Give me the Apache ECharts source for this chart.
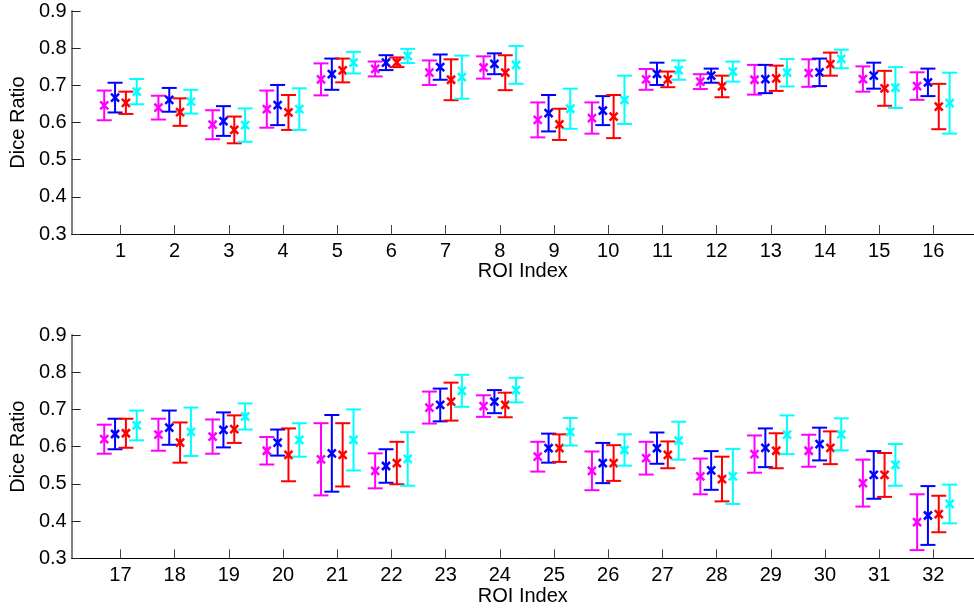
<!DOCTYPE html>
<html>
<head>
<meta charset="utf-8">
<script src="https://cdn.jsdelivr.net/npm/echarts@6/dist/echarts.min.js"></script>
<style>
  html, body { margin: 0; padding: 0; background: #fff; }
  #chart { width: 974px; height: 609px; }
</style>
</head>
<body>
<div id="chart"></div>
<script>
// ROI tick labels for the two panels
const roiTop = [1, 2, 3, 4, 5, 6, 7, 8, 9, 10, 11, 12, 13, 14, 15, 16];
const roiBottom = [17, 18, 19, 20, 21, 22, 23, 24, 25, 26, 27, 28, 29, 30, 31, 32];

// Mean Dice ratio and standard deviation per ROI (1..32) for each method
const meanMagenta = [0.646, 0.640, 0.594, 0.636, 0.716, 0.744, 0.734, 0.748, 0.607, 0.612, 0.716, 0.710, 0.715, 0.733, 0.717, 0.698,
                     0.620, 0.632, 0.627, 0.589, 0.566, 0.535, 0.705, 0.709, 0.573, 0.535, 0.569, 0.520, 0.580, 0.589, 0.502, 0.397];
const sdMagenta   = [0.040, 0.032, 0.039, 0.050, 0.043, 0.020, 0.033, 0.030, 0.047, 0.042, 0.028, 0.020, 0.040, 0.037, 0.034, 0.037,
                     0.039, 0.043, 0.046, 0.037, 0.097, 0.047, 0.043, 0.029, 0.040, 0.052, 0.044, 0.048, 0.050, 0.043, 0.063, 0.075];

const meanBlue = [0.667, 0.661, 0.604, 0.647, 0.730, 0.761, 0.749, 0.758, 0.625, 0.632, 0.731, 0.726, 0.717, 0.735, 0.726, 0.708,
                  0.634, 0.651, 0.645, 0.611, 0.582, 0.548, 0.712, 0.721, 0.596, 0.556, 0.596, 0.536, 0.597, 0.607, 0.524, 0.415];
const sdBlue   = [0.040, 0.032, 0.040, 0.054, 0.042, 0.020, 0.034, 0.028, 0.049, 0.039, 0.030, 0.019, 0.038, 0.037, 0.035, 0.037,
                  0.041, 0.046, 0.047, 0.035, 0.103, 0.045, 0.044, 0.031, 0.039, 0.054, 0.042, 0.052, 0.052, 0.044, 0.064, 0.079];

const meanRed = [0.653, 0.628, 0.580, 0.627, 0.740, 0.762, 0.715, 0.734, 0.595, 0.616, 0.716, 0.697, 0.719, 0.757, 0.692, 0.643,
                 0.636, 0.611, 0.647, 0.578, 0.578, 0.556, 0.721, 0.712, 0.596, 0.556, 0.578, 0.513, 0.589, 0.597, 0.524, 0.419];
const sdRed   = [0.030, 0.037, 0.036, 0.047, 0.032, 0.013, 0.055, 0.047, 0.042, 0.058, 0.021, 0.029, 0.034, 0.031, 0.047, 0.061,
                 0.039, 0.054, 0.037, 0.071, 0.085, 0.057, 0.051, 0.033, 0.037, 0.048, 0.036, 0.060, 0.047, 0.044, 0.059, 0.049];

const meanCyan = [0.683, 0.656, 0.593, 0.636, 0.761, 0.779, 0.722, 0.755, 0.637, 0.661, 0.741, 0.737, 0.734, 0.771, 0.694, 0.652,
                  0.657, 0.640, 0.681, 0.618, 0.618, 0.567, 0.750, 0.752, 0.640, 0.591, 0.616, 0.520, 0.632, 0.633, 0.551, 0.446];
const sdCyan   = [0.034, 0.032, 0.045, 0.056, 0.029, 0.019, 0.058, 0.051, 0.054, 0.065, 0.026, 0.027, 0.037, 0.025, 0.055, 0.082,
                  0.040, 0.065, 0.035, 0.045, 0.082, 0.072, 0.043, 0.033, 0.037, 0.042, 0.051, 0.074, 0.052, 0.043, 0.056, 0.052];

// Method styling: colour and horizontal offset within each ROI group
const methods = [
  { name: 'Magenta', color: '#ff00ff', offset: -0.3, mean: meanMagenta, sd: sdMagenta },
  { name: 'Blue',    color: '#0000ff', offset: -0.1, mean: meanBlue,    sd: sdBlue },
  { name: 'Red',     color: '#ff0000', offset:  0.1, mean: meanRed,     sd: sdRed },
  { name: 'Cyan',    color: '#00ffff', offset:  0.3, mean: meanCyan,    sd: sdCyan }
];

const FONT = '"Liberation Sans", Arial, Helvetica, sans-serif';
const FONT_SIZE = 20;

function errorBarRenderer(color) {
  return function (params, api) {
    const x = api.value(0), m = api.value(1), s = api.value(2);
    const c = api.coord([x, m]);
    const hi = api.coord([x, m + s]);
    const lo = api.coord([x, m - s]);
    const cap = 7.5, mk = 4;
    const st = { stroke: color, lineWidth: 2, fill: null };
    const stMk = { stroke: color, lineWidth: 2.5, fill: null };
    return {
      type: 'group',
      children: [
        { type: 'line', shape: { x1: c[0], y1: hi[1], x2: c[0], y2: lo[1] }, style: st },
        { type: 'line', shape: { x1: c[0] - cap, y1: hi[1], x2: c[0] + cap, y2: hi[1] }, style: st },
        { type: 'line', shape: { x1: c[0] - cap, y1: lo[1], x2: c[0] + cap, y2: lo[1] }, style: st },
        { type: 'line', shape: { x1: c[0] - mk, y1: c[1] - mk, x2: c[0] + mk, y2: c[1] + mk }, style: stMk },
        { type: 'line', shape: { x1: c[0] - mk, y1: c[1] + mk, x2: c[0] + mk, y2: c[1] - mk }, style: stMk }
      ]
    };
  };
}

function xAxisFor(gridIndex, ticks) {
  return {
    type: 'value',
    gridIndex: gridIndex,
    min: ticks[0] - 0.9,
    max: ticks[ticks.length - 1] + 0.75,
    name: 'ROI Index',
    nameLocation: 'middle',
    nameGap: 26,
    nameTextStyle: { fontFamily: FONT, fontSize: FONT_SIZE, color: '#000' },
    axisLine: { show: true, onZero: false, lineStyle: { color: '#000', width: 1 } },
    axisTick: { show: true, inside: true, length: 9, customValues: ticks, lineStyle: { color: '#444', width: 1 } },
    axisLabel: { show: true, margin: 7, customValues: ticks, fontFamily: FONT, fontSize: FONT_SIZE, color: '#000',
                 formatter: v => String(Math.round(v)) },
    splitLine: { show: false }
  };
}

function yAxisFor(gridIndex) {
  return {
    type: 'value',
    gridIndex: gridIndex,
    min: 0.3,
    max: 0.9,
    interval: 0.1,
    name: 'Dice Ratio',
    nameLocation: 'middle',
    nameGap: 42,
    nameTextStyle: { fontFamily: FONT, fontSize: FONT_SIZE, color: '#000' },
    axisLine: { show: true, onZero: false, lineStyle: { color: '#808080', width: 2 } },
    axisTick: { show: true, inside: true, length: 9, lineStyle: { color: '#222', width: 1 } },
    axisLabel: { margin: 5, fontFamily: FONT, fontSize: FONT_SIZE, color: '#000', formatter: v => v.toFixed(1) },
    splitLine: { show: false }
  };
}

const panels = [roiTop, roiBottom];
const series = [];
panels.forEach((ticks, p) => {
  methods.forEach(m => {
    const data = ticks.map(roi => [roi + m.offset, m.mean[roi - 1], m.sd[roi - 1]]);
    series.push({
      type: 'custom',
      name: m.name,
      xAxisIndex: p,
      yAxisIndex: p,
      renderItem: errorBarRenderer(m.color),
      encode: { x: 0, y: 1 },
      data: data,
      clip: false,
      silent: true
    });
  });
});

const chart = echarts.init(document.getElementById('chart'), null, { renderer: 'canvas' });
chart.setOption({
  animation: false,
  backgroundColor: '#fff',
  grid: [
    { left: 70, top: 11, width: 904, height: 223 },
    { left: 70, top: 335, width: 904, height: 223.3 }
  ],
  xAxis: [xAxisFor(0, roiTop), xAxisFor(1, roiBottom)],
  yAxis: [yAxisFor(0), yAxisFor(1)],
  series: series
});
</script>
</body>
</html>
